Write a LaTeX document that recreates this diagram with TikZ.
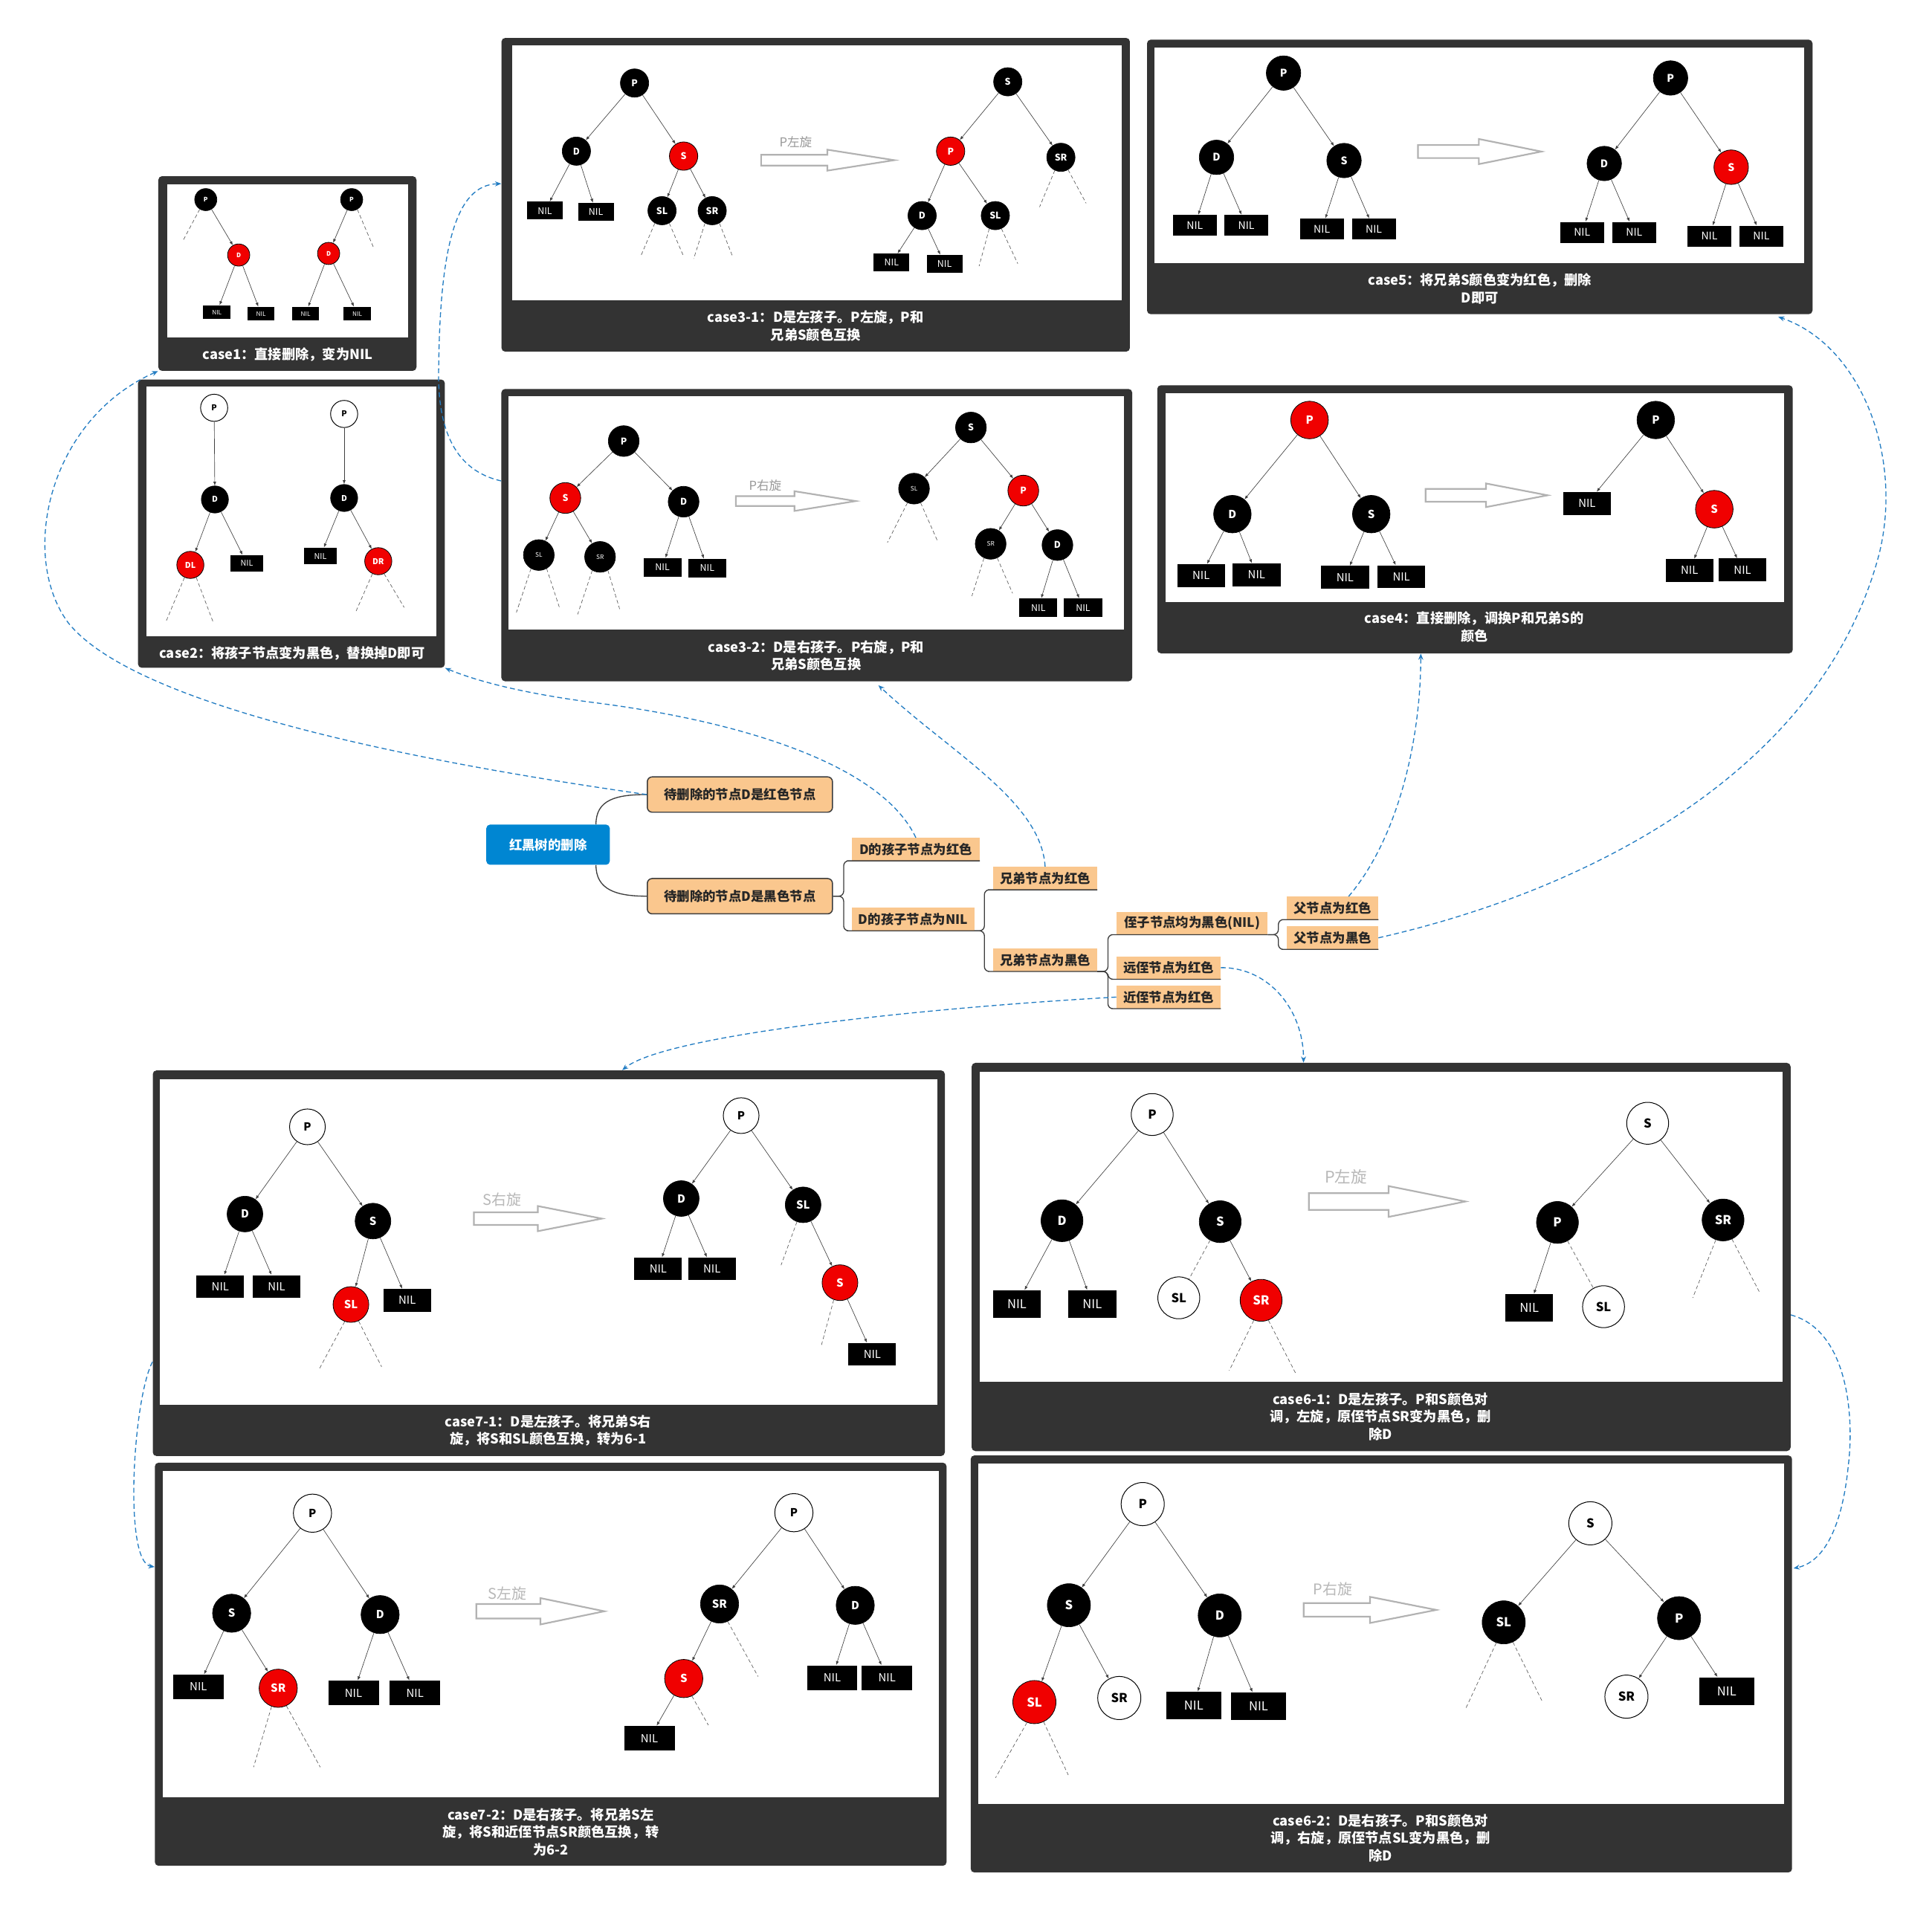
\documentclass[tikz,border=0pt]{standalone}
\usepackage{fontspec}
\setmainfont{Noto Sans CJK SC}
\usetikzlibrary{arrows.meta,calc}
\definecolor{panelc}{RGB}{51,51,51}
\definecolor{mmorange}{RGB}{250,199,142}
\definecolor{mmblue}{RGB}{0,134,210}
\definecolor{linkblue}{RGB}{35,125,195}
\definecolor{mmline}{RGB}{60,60,60}
\definecolor{redn}{RGB}{240,0,0}
\newcommand\tcs{20pt}
\newcommand\tnw{30pt}
\newcommand\tnh{15pt}
\newcommand\tfs{6}
\newcommand{\harrow}[6]{\draw[harr] (#1,{#4-#5}) -- (#2,{#4-#5}) -- (#2,{#4-#6}) -- (#3,#4) -- (#2,{#4+#6}) -- (#2,{#4+#5}) -- (#1,{#4+#5}) -- cycle;}
\tikzset{
 tn/.style={circle, inner sep=0pt, minimum size=\tcs, font=\bfseries\fontsize{\tfs}{\tfs}\selectfont},
 bn/.style={tn, fill=black, draw=black, text=white},
 rn/.style={tn, fill=redn, draw=black, line width=0.5pt, text=white},
 wn/.style={tn, fill=white, draw=black, line width=0.6pt, text=black},
 nilb/.style={rectangle, fill=black, text=white, inner sep=0pt, minimum width=\tnw, minimum height=\tnh, font=\fontsize{\tfs}{\tfs}\selectfont},
 te/.style={draw=black!75, line width=0.4pt, -{Latex[length=3.2pt,width=2.4pt]}},
 td/.style={draw=black!65, line width=0.4pt, dash pattern=on 3pt off 2pt},
 panelbox/.style={fill=panelc, rounded corners=3pt, inner sep=0pt, draw=none},
 pinner/.style={fill=white, inner sep=0pt, draw=none},
 captxt/.style={text=white, align=center, font=\bfseries\fontsize{11}{14.2}\selectfont},
 harr/.style={draw=black!30, line width=1.3pt, fill=white, line join=miter},
 rotl/.style={text=black!40, font=\fontsize{#1}{#1}\selectfont},
 mmroot/.style={fill=mmblue, rounded corners=3pt, text=white, inner sep=0pt, font=\bfseries\fontsize{10.5}{12}\selectfont},
 mmone/.style={fill=mmorange, draw=mmline, line width=0.9pt, rounded corners=4pt, text=black!85, inner sep=0pt, font=\bfseries\fontsize{10.5}{12}\selectfont},
 mmlab/.style={fill=mmorange, text=black!85, inner sep=0pt, minimum height=18.4pt, font=\bfseries\fontsize{10.5}{12}\selectfont},
 mmc/.style={draw=mmline, line width=0.8pt},
 bl/.style={draw=linkblue, line width=0.8pt, dash pattern=on 4pt off 2.5pt, -{Stealth[length=5pt,width=4pt]}}
}
\begin{document}
\begin{tikzpicture}[x=1pt,y=-1pt]
\useasboundingbox (0,0) rectangle (1568,1551);
\fill[white] (0,0) rectangle (1568,1551);

% ---------- panels ----------
\node[panelbox, minimum width=209.5pt, minimum height=158pt] (p1) at (233.25,222) {};
\node[pinner, minimum width=195.3pt, minimum height=124.4pt] (p1i) at (233.35,211.8) {};
\node[captxt] (p1c) at (233.5,288) {case1：直接删除，变为NIL};

\node[panelbox, minimum width=249pt, minimum height=234pt] (p2) at (236.5,425) {};
\node[pinner, minimum width=235pt, minimum height=202.5pt] (p2i) at (236.5,415.25) {};
\node[captxt] (p2c) at (237,530) {case2：将孩子节点变为黑色，替换掉D即可};

\node[panelbox, minimum width=510pt, minimum height=254.6pt] (p31) at (662,158.1) {};
\node[pinner, minimum width=494.7pt, minimum height=206.9pt] (p31i) at (663.05,140.25) {};
\node[captxt] (p31c) at (662,264.5) {case3-1：D是左孩子。P左旋，P和\\兄弟S颜色互换};

\node[panelbox, minimum width=540.1pt, minimum height=222.8pt] (p5) at (1200.95,143.6) {};
\node[pinner, minimum width=527.4pt, minimum height=175pt] (p5i) at (1200.4,126.1) {};
\node[captxt] (p5c) at (1201,234.3) {case5：将兄弟S颜色变为红色，删除\\D即可};

\node[panelbox, minimum width=512pt, minimum height=237.3pt] (p32) at (662.9,434.35) {};
\node[pinner, minimum width=499.7pt, minimum height=189.4pt] (p32i) at (662.35,416.5) {};
\node[captxt] (p32c) at (662.3,532) {case3-2：D是右孩子。P右旋，P和\\兄弟S颜色互换};

\node[panelbox, minimum width=515.8pt, minimum height=217.6pt] (p4) at (1197.1,421.5) {};
\node[pinner, minimum width=502pt, minimum height=169.5pt] (p4i) at (1197,403.95) {};
\node[captxt] (p4c) at (1196.5,508.8) {case4：直接删除，调换P和兄弟S的\\颜色};

\node[panelbox, minimum width=642.8pt, minimum height=313pt] (p71) at (445.4,1025.3) {};
\node[pinner, minimum width=630.9pt, minimum height=264.5pt] (p71i) at (445.25,1008.15) {};
\node[captxt] (p71c) at (444.8,1161) {case7-1：D是左孩子。将兄弟S右\\旋，将S和SL颜色互换，转为6-1};

\node[panelbox, minimum width=664.6pt, minimum height=315.1pt] (p61) at (1120.9,1020.25) {};
\node[pinner, minimum width=651.6pt, minimum height=251.9pt] (p61i) at (1120.9,995.85) {};
\node[captxt] (p61c) at (1120.4,1149.7) {case6-1：D是左孩子。P和S颜色对\\调，左旋，原侄节点SR变为黑色，删\\除D};

\node[panelbox, minimum width=642.5pt, minimum height=327.2pt] (p72) at (446.95,1350.8) {};
\node[pinner, minimum width=630pt, minimum height=264.4pt] (p72i) at (446.9,1326.3) {};
\node[captxt] (p72c) at (446.9,1487) {case7-2：D是右孩子。将兄弟S左\\旋，将S和近侄节点SR颜色互换，转\\为6-2};

\node[panelbox, minimum width=666.6pt, minimum height=338.5pt] (p62) at (1121.1,1350.55) {};
\node[pinner, minimum width=654.2pt, minimum height=276pt] (p62i) at (1120.9,1326) {};
\node[captxt] (p62c) at (1120.4,1491.9) {case6-2：D是右孩子。P和S颜色对\\调，右旋，原侄节点SL变为黑色，删\\除D};

% ---------- case1 ----------
\begin{scope}
\def\tcs{18pt}\def\tnw{22pt}\def\tnh{11pt}\def\tfs{5}
\node[bn] (c1p) at (167,162) {P};
\node[rn] (c1d) at (193.7,207) {D};
\node[nilb] (c1n1) at (176,253.4) {NIL};
\node[nilb] (c1n2) at (211.8,254.6) {NIL};
\node[bn] (c1q) at (285.4,162) {P};
\node[rn] (c1e) at (266.7,205.7) {D};
\node[nilb] (c1n3) at (248,254.6) {NIL};
\node[nilb] (c1n4) at (290,254.6) {NIL};
\foreach \u/\v in {c1p/c1d,c1d/c1n1,c1d/c1n2,c1q/c1e,c1e/c1n3,c1e/c1n4} \draw[te] (\u) -- (\v);
\draw[td] (c1p.238) -- (148.4,195.5);
\draw[td] (c1q.300) -- (302.9,200.3);
\end{scope}

% ---------- case2 ----------
\begin{scope}
\def\tcs{22pt}\def\tnw{27pt}\def\tnh{13.5pt}\def\tfs{6.5}
\node[wn] (c2p) at (173.8,331) {P};
\node[bn] (c2d) at (174.4,405.4) {D};
\node[rn] (c2dl) at (154.5,458.5) {DL};
\node[nilb] (c2n1) at (200.3,457.3) {NIL};
\node[wn] (c2q) at (279.3,336) {P};
\node[bn] (c2e) at (279.3,404.2) {D};
\node[nilb] (c2n2) at (260,451.3) {NIL};
\node[rn] (c2dr) at (307,455.5) {DR};
\foreach \u/\v in {c2p/c2d,c2d/c2dl,c2d/c2n1,c2q/c2e,c2e/c2n2,c2e/c2dr} \draw[te] (\u) -- (\v);
\draw[td] (c2dl.245) -- (134.5,505);
\draw[td] (c2dl.295) -- (173,505);
\draw[td] (c2dr.245) -- (289,496);
\draw[td] (c2dr.295) -- (328,493);
\end{scope}

% ---------- case3-1 ----------
\begin{scope}
\def\tcs{23pt}\def\tnw{29pt}\def\tnh{14.5pt}\def\tfs{7.5}
\node[bn] (a31p) at (515,67.4) {P};
\node[bn] (a31d) at (467.8,122.7) {D};
\node[rn] (a31s) at (554.8,126.7) {S};
\node[nilb] (a31n1) at (442.2,171) {NIL};
\node[nilb] (a31n2) at (483.6,172) {NIL};
\node[bn] (a31sl) at (537.3,171) {SL};
\node[bn] (a31sr) at (578,171) {SR};
\foreach \u/\v in {a31p/a31d,a31p/a31s,a31d/a31n1,a31d/a31n2,a31s/a31sl,a31s/a31sr} \draw[te] (\u) -- (\v);
\draw[td] (a31sl.240) -- (520,208);
\draw[td] (a31sl.300) -- (554.8,208);
\draw[td] (a31sr.240) -- (563,210);
\draw[td] (a31sr.300) -- (594.5,208);
\harrow{617.7}{671.5}{725.8}{130}{4.35}{8.5}
\node[rotl=10] (l31) at (645.8,115.6) {P左旋};
\node[bn] (b31s) at (817.9,66.4) {S};
\node[rn] (b31p) at (771.5,122.7) {P};
\node[bn] (b31sr) at (861,127.7) {SR};
\node[bn] (b31d) at (748.4,175) {D};
\node[bn] (b31sl) at (807.8,175) {SL};
\node[nilb] (b31n1) at (723.6,213.2) {NIL};
\node[nilb] (b31n2) at (766.6,214.2) {NIL};
\foreach \u/\v in {b31s/b31p,b31s/b31sr,b31p/b31d,b31p/b31sl,b31d/b31n1,b31d/b31n2} \draw[te] (\u) -- (\v);
\draw[td] (b31sr.245) -- (843.7,168);
\draw[td] (b31sr.300) -- (881.5,165);
\draw[td] (b31sl.245) -- (794.6,216);
\draw[td] (b31sl.295) -- (826,214);
\end{scope}

% ---------- case5 ----------
\begin{scope}
\def\tcs{28pt}\def\tnw{35.7pt}\def\tnh{17pt}\def\tfs{8.5}
\node[bn] (a5p) at (1041.7,59.3) {P};
\node[bn] (a5d) at (987.3,127.7) {D};
\node[bn] (a5s) at (1090.8,130.3) {S};
\node[nilb] (a5n1) at (969.7,183) {NIL};
\node[nilb] (a5n2) at (1011.5,183) {NIL};
\node[nilb] (a5n3) at (1072.8,186) {NIL};
\node[nilb] (a5n4) at (1115,186) {NIL};
\foreach \u/\v in {a5p/a5d,a5p/a5s,a5d/a5n1,a5d/a5n2,a5s/a5n3,a5s/a5n4} \draw[te] (\u) -- (\v);
\harrow{1150.8}{1200.2}{1251}{123}{5.3}{10.2}
\node[bn] (b5p) at (1355.8,63.3) {P};
\node[bn] (b5d) at (1302,132.7) {D};
\node[rn] (b5s) at (1405,135.7) {S};
\node[nilb] (b5n1) at (1284,188.6) {NIL};
\node[nilb] (b5n2) at (1326.3,188.6) {NIL};
\node[nilb] (b5n3) at (1387.3,191.7) {NIL};
\node[nilb] (b5n4) at (1429.5,191.7) {NIL};
\foreach \u/\v in {b5p/b5d,b5p/b5s,b5d/b5n1,b5d/b5n2,b5s/b5n3,b5s/b5n4} \draw[te] (\u) -- (\v);
\end{scope}

% ---------- case3-2 ----------
\begin{scope}
\def\tcs{25pt}\def\tnw{30.8pt}\def\tnh{15pt}\def\tfs{7.5}
\node[bn] (a32p) at (506.2,358) {P};
\node[rn] (a32s) at (458.8,404.2) {S};
\node[bn] (a32d) at (554.8,407.2) {D};
\node[bn, font=\fontsize{5}{5}\selectfont] (a32sl) at (437.3,450.5) {SL};
\node[bn, font=\fontsize{5}{5}\selectfont] (a32sr) at (487,452) {SR};
\node[nilb] (a32n1) at (537.6,460.5) {NIL};
\node[nilb] (a32n2) at (574,461.1) {NIL};
\foreach \u/\v in {a32p/a32s,a32p/a32d,a32s/a32sl,a32s/a32sr,a32d/a32n1,a32d/a32n2} \draw[te] (\u) -- (\v);
\draw[td] (a32sl.240) -- (419.1,497.1);
\draw[td] (a32sl.300) -- (453.9,492.7);
\draw[td] (a32sr.240) -- (468.8,498.7);
\draw[td] (a32sr.300) -- (502.9,494.3);
\harrow{597.2}{644.8}{694.5}{406.7}{4}{8}
\node[rotl=10] (l32) at (621,393.8) {P右旋};
\node[bn] (b32s) at (788,347) {S};
\node[bn, font=\fontsize{5}{5}\selectfont] (b32sl) at (741.8,396.6) {SL};
\node[rn] (b32p) at (830.5,398.2) {P};
\node[bn, font=\fontsize{5}{5}\selectfont] (b32sr) at (804,441.4) {SR};
\node[bn] (b32d) at (858.2,442.4) {D};
\node[nilb] (b32n1) at (842.7,493.3) {NIL};
\node[nilb] (b32n2) at (879,493.3) {NIL};
\foreach \u/\v in {b32s/b32sl,b32s/b32p,b32p/b32sr,b32p/b32d,b32d/b32n1,b32d/b32n2} \draw[te] (\u) -- (\v);
\draw[td] (b32sl.245) -- (720.2,440.4);
\draw[td] (b32sl.295) -- (761,439.4);
\draw[td] (b32sr.245) -- (788.8,483.7);
\draw[td] (b32sr.295) -- (821.8,481.6);
\end{scope}

% ---------- case4 ----------
\begin{scope}
\def\tcs{30.5pt}\def\tnw{38.9pt}\def\tnh{18.5pt}\def\tfs{9}
\node[rn] (a4p) at (1062.8,340.9) {P};
\node[bn] (a4d) at (1000.2,417.3) {D};
\node[bn] (a4s) at (1112.9,417.3) {S};
\node[nilb] (a4n1) at (974.8,467.2) {NIL};
\node[nilb] (a4n2) at (1019.8,466.6) {NIL};
\node[nilb] (a4n3) at (1091.6,468.6) {NIL};
\node[nilb] (a4n4) at (1137.3,468.2) {NIL};
\foreach \u/\v in {a4p/a4d,a4p/a4s,a4d/a4n1,a4d/a4n2,a4s/a4n3,a4s/a4n4} \draw[te] (\u) -- (\v);
\harrow{1157}{1206}{1256}{402}{5.2}{9.6}
\node[bn] (b4p) at (1343.8,340.9) {P};
\node[nilb] (b4n0) at (1288,408.6) {NIL};
\node[rn] (b4s) at (1391.3,413.3) {S};
\node[nilb] (b4n1) at (1371.2,463) {NIL};
\node[nilb] (b4n2) at (1414.2,462.6) {NIL};
\foreach \u/\v in {b4p/b4n0,b4p/b4s,b4s/b4n1,b4s/b4n2} \draw[te] (\u) -- (\v);
\end{scope}

% ---------- case7-1 ----------
\begin{scope}
\def\tcs{29pt}\def\tnw{38.6pt}\def\tnh{18.4pt}\def\tfs{9}
\node[wn] (a71p) at (249.5,914.6) {P};
\node[bn] (a71d) at (198.8,985.4) {D};
\node[bn] (a71s) at (302.7,991.1) {S};
\node[nilb] (a71n1) at (178.8,1044.2) {NIL};
\node[nilb] (a71n2) at (224.5,1044.2) {NIL};
\node[rn] (a71sl) at (284.8,1058.8) {SL};
\node[nilb] (a71n3) at (330.5,1055.4) {NIL};
\foreach \u/\v in {a71p/a71d,a71p/a71s,a71d/a71n1,a71d/a71n2,a71s/a71sl,a71s/a71n3} \draw[te] (\u) -- (\v);
\draw[td] (a71sl.250) -- (259,1111.4);
\draw[td] (a71sl.295) -- (309.7,1109.4);
\harrow{384.6}{436.5}{488.5}{989.1}{5.1}{10.2}
\node[rotl=12, text=black!28] (l71) at (407.4,973.8) {S右旋};
\node[wn] (b71p) at (601.5,905.5) {P};
\node[bn] (b71d) at (552.9,972.8) {D};
\node[bn] (b71sl) at (651.8,977.9) {SL};
\node[nilb] (b71n1) at (534.2,1029.9) {NIL};
\node[nilb] (b71n2) at (577.8,1029.9) {NIL};
\node[rn] (b71s) at (681.7,1041.1) {S};
\node[nilb] (b71n3) at (707.9,1099.2) {NIL};
\foreach \u/\v in {b71p/b71d,b71p/b71sl,b71d/b71n1,b71d/b71n2,b71sl/b71s,b71s/b71n3} \draw[te] (\u) -- (\v);
\draw[td] (b71sl.250) -- (633.9,1026.9);
\draw[td] (b71s.250) -- (666.3,1093.1);
\end{scope}

% ---------- case6-1 ----------
\begin{scope}
\def\tcs{34pt}\def\tnw{38.8pt}\def\tnh{22.4pt}\def\tfs{10}
\node[wn] (a61p) at (935.1,904.6) {P};
\node[bn] (a61d) at (861.9,990.8) {D};
\node[bn] (a61s) at (990.3,991.6) {S};
\node[nilb] (a61n1) at (825.3,1058.5) {NIL};
\node[nilb] (a61n2) at (886.5,1058.5) {NIL};
\node[wn] (a61sl) at (956.7,1053.4) {SL};
\node[rn] (a61sr) at (1023.5,1055.4) {SR};
\foreach \u/\v in {a61p/a61d,a61p/a61s,a61d/a61n1,a61d/a61n2,a61s/a61sr} \draw[te] (\u) -- (\v);
\draw[td] (a61s) -- (a61sl);
\draw[td] (a61sr.250) -- (997.6,1112.5);
\draw[td] (a61sr.290) -- (1051.5,1114.6);
\harrow{1062.3}{1127}{1189.4}{975.2}{6.8}{12.5}
\node[rotl=13, text=black!28] (l61) at (1092.4,954.9) {P左旋};
\node[wn] (b61s) at (1337.2,911.7) {S};
\node[bn] (b61p) at (1264,992.2) {P};
\node[bn] (b61sr) at (1398.4,990.2) {SR};
\node[nilb] (b61n1) at (1241.1,1061.6) {NIL};
\node[wn] (b61sl) at (1301.4,1060.6) {SL};
\foreach \u/\v in {b61s/b61p,b61s/b61sr,b61p/b61n1} \draw[te] (\u) -- (\v);
\draw[td] (b61p) -- (b61sl);
\draw[td] (b61sr.250) -- (1373.8,1053.4);
\draw[td] (b61sr.295) -- (1427.7,1048.3);
\end{scope}

% ---------- case7-2 ----------
\begin{scope}
\def\tcs{31pt}\def\tnw{41pt}\def\tnh{20pt}\def\tfs{9}
\node[wn] (a72p) at (253.6,1228.2) {P};
\node[bn] (a72s) at (188,1309.4) {S};
\node[bn] (a72d) at (308.5,1310.5) {D};
\node[nilb] (a72n1) at (161,1369.2) {NIL};
\node[rn] (a72sr) at (225.8,1370.3) {SR};
\node[nilb] (a72n2) at (286.9,1374.1) {NIL};
\node[nilb] (a72n3) at (336.8,1374.1) {NIL};
\foreach \u/\v in {a72p/a72s,a72p/a72d,a72s/a72n1,a72s/a72sr,a72d/a72n2,a72d/a72n3} \draw[te] (\u) -- (\v);
\draw[td] (a72sr.250) -- (205.8,1434.3);
\draw[td] (a72sr.295) -- (259.9,1434.3);
\harrow{386.6}{438.6}{490.5}{1307.8}{5.9}{10.7}
\node[rotl=12, text=black!28] (l72) at (411.6,1293.4) {S左旋};
\node[wn] (b72p) at (644.3,1227.8) {P};
\node[bn] (b72sr) at (584,1301.9) {SR};
\node[bn] (b72d) at (694.1,1303) {D};
\node[rn] (b72s) at (554.9,1362.4) {S};
\node[nilb] (b72n1) at (527,1410.9) {NIL};
\node[nilb] (b72n2) at (675.4,1361.7) {NIL};
\node[nilb] (b72n3) at (719.9,1361.7) {NIL};
\foreach \u/\v in {b72p/b72sr,b72p/b72d,b72sr/b72s,b72s/b72n1,b72d/b72n2,b72d/b72n3} \draw[te] (\u) -- (\v);
\draw[td] (b72sr.295) -- (615.2,1360.7);
\draw[td] (b72s.295) -- (574.9,1400.2);
\end{scope}

% ---------- case6-2 ----------
\begin{scope}
\def\tcs{35pt}\def\tnw{45pt}\def\tnh{22.5pt}\def\tfs{10}
\node[wn] (a62p) at (927.4,1220.8) {P};
\node[bn] (a62s) at (867.5,1302.9) {S};
\node[bn] (a62d) at (989.9,1311.2) {D};
\node[rn] (a62sl) at (839.5,1381.5) {SL};
\node[wn] (a62sr) at (908.4,1378.2) {SR};
\node[nilb] (a62n1) at (968.8,1384.4) {NIL};
\node[nilb] (a62n2) at (1021.4,1384.9) {NIL};
\foreach \u/\v in {a62p/a62s,a62p/a62d,a62s/a62sl,a62s/a62sr,a62d/a62n1,a62d/a62n2} \draw[te] (\u) -- (\v);
\draw[td] (a62sl.250) -- (808,1442.9);
\draw[td] (a62sl.295) -- (867,1440.7);
\harrow{1058}{1111.9}{1165.7}{1306.7}{5.5}{10.6}
\node[rotl=12, text=black!28] (l62) at (1081.7,1290) {P右旋};
\node[wn] (b62s) at (1290.7,1236.4) {S};
\node[bn] (b62sl) at (1220.4,1316.8) {SL};
\node[bn] (b62p) at (1362.7,1313.4) {P};
\node[wn] (b62sr) at (1320,1377.1) {SR};
\node[nilb] (b62n1) at (1401.4,1372.6) {NIL};
\foreach \u/\v in {b62s/b62sl,b62s/b62p,b62p/b62sr,b62p/b62n1} \draw[te] (\u) -- (\v);
\draw[td] (b62sl.250) -- (1189.4,1387.1);
\draw[td] (b62sl.295) -- (1251.9,1381.5);
\end{scope}

% ---------- mind map ----------
\node[mmroot, minimum width=100.2pt, minimum height=32.6pt] (root) at (444.8,685.6) {红黑树的删除};
\node[mmone, minimum width=150.3pt, minimum height=28.7pt] (m1) at (600.5,644.9) {待删除的节点D是红色节点};
\node[mmone, minimum width=150.3pt, minimum height=28.7pt] (m2) at (600.5,727.4) {待删除的节点D是黑色节点};
\node[mmlab, minimum width=103.5pt] (la) at (743.3,689.3) {D的孩子节点为红色};
\node[mmlab, minimum width=99.2pt] (lb) at (741.1,746.1) {D的孩子节点为NIL};
\node[mmlab, minimum width=84.4pt] (lc) at (848.2,712.8) {兄弟节点为红色};
\node[mmlab, minimum width=84.4pt] (ld) at (848.2,779.1) {兄弟节点为黑色};
\node[mmlab, minimum width=122.6pt] (le) at (967.5,749.2) {侄子节点均为黑色(NIL)};
\node[mmlab, minimum width=84.4pt] (lf) at (948.4,785.4) {远侄节点为红色};
\node[mmlab, minimum width=84.4pt] (lg) at (948.4,809.3) {近侄节点为红色};
\node[mmlab, minimum width=74pt] (lh) at (1081.5,737) {父节点为红色};
\node[mmlab, minimum width=74pt] (li) at (1081.5,761.2) {父节点为黑色};

\draw[mmc] (root.23) .. controls +(0,-20) and +(-25,0) .. (m1.west);
\draw[mmc] (root.-23) .. controls +(0,20) and +(-25,0) .. (m2.west);
\draw[mmc, rounded corners=4pt] (m2.east) -- ++(8.6,0) |- (la.south west) -- (la.south east);
\draw[mmc, rounded corners=4pt] (m2.east) -- ++(8.6,0) |- (lb.south west) -- (lb.south east);
\draw[mmc, rounded corners=4pt] (lb.south east) -- ++(8,0) |- (lc.south west) -- (lc.south east);
\draw[mmc, rounded corners=4pt] (lb.south east) -- ++(8,0) |- (ld.south west) -- (ld.south east);
\draw[mmc, rounded corners=4pt] (ld.south east) -- ++(8.6,0) |- (le.south west) -- (le.south east);
\draw[mmc, rounded corners=4pt] (ld.south east) -- ++(8.6,0) |- (lf.south west) -- (lf.south east);
\draw[mmc, rounded corners=4pt] (ld.south east) -- ++(8.6,0) |- (lg.south west) -- (lg.south east);
\draw[mmc, rounded corners=4pt] (le.south east) -- ++(8.5,0) |- (lh.south west) -- (lh.south east);
\draw[mmc, rounded corners=4pt] (le.south east) -- ++(8.5,0) |- (li.south west) -- (li.south east);

% ---------- blue dashed links ----------
\draw[bl] (m1.west) .. controls (350,620) and (110,575) .. (55,505) .. controls (15,450) and (40,340) .. (p1.south west);
\draw[bl] (la.north) .. controls (715,620) and (600,585) .. (480,570) .. controls (420,562) and (385,552) .. (p2.south east);
\draw[bl] (lc.north) .. controls (845,650) and (770,610) .. ($(p32.south)+(50,3)$);
\draw[bl] ($(p32.west)+(0,-44)$) .. controls (370,382) and (355,350) .. (356,300) .. controls (357,200) and (370,150) .. ($(p31.west)+(0,-9)$);
\draw[bl] ($(lh.north)+(13,0)$) .. controls (1135,680) and (1153,600) .. ($(p4.south)+(-44,0)$);
\draw[bl] (li.east) .. controls (1300,720) and (1480,620) .. (1525,450) .. controls (1545,370) and (1510,280) .. ($(p5.south east)+(-28,2)$);
\draw[bl] (lf.east) .. controls (1030,785) and (1058,820) .. ($(p61.north)+(-63,0)$);
\draw[bl] (lg.west) .. controls (750,818) and (540,840) .. ($(p71.north)+(59.6,0)$);
\draw[bl] ($(p71.west)+(0,80)$) .. controls (108,1135) and (100,1268) .. ($(p72.west)+(0,-79)$);
\draw[bl] ($(p61.east)+(0,47)$) .. controls (1500,1080) and (1505,1150) .. (1500,1190) .. controls (1495,1240) and (1480,1268) .. ($(p62.east)+(1,-77.6)$);
\end{tikzpicture}
\end{document}
